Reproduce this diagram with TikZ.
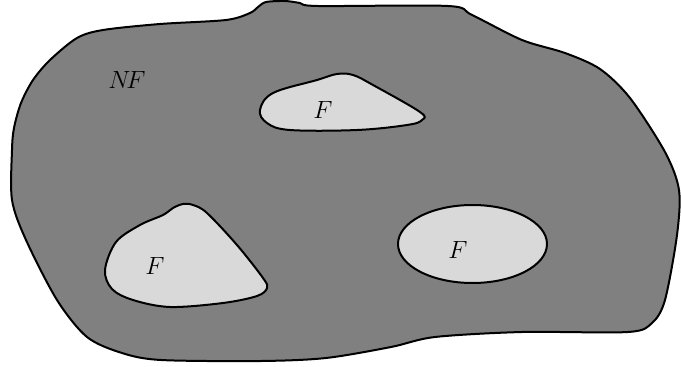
\documentclass[tikz,border=0pt]{standalone}
\begin{document}
\begin{tikzpicture}[x=1pt,y=-1pt,
  region/.style={draw=black,line width=2pt,line join=round},
  outer/.style={region,fill=black!50},
  inner/.style={region,fill=black!15},
  lbl/.style={font=\fontsize{23}{27}\selectfont,inner sep=0pt}]
\useasboundingbox (0,0) rectangle (681,367);
\draw[outer] plot[smooth cycle,tension=0.5] coordinates {
  (103,30) (160,24) (226,20) (250,13) (258,7) (266,2) (285,1) (300,3) (318,6)
  (448,6) (472,15) (522,40) (565,53) (600,69) (630,98) (665,152) (679,190)
  (677,235) (665,300) (652,323) (628,332) (522,332) (435,337) (391,347)
  (326,358) (261,361) (161,360) (122,353) (87,337) (57,300) (26,240)
  (12,200) (12,150) (14,128) (21,103) (33,80) (50,60) (77,38)};
\draw[inner] plot[smooth cycle,tension=0.6] coordinates {
  (260,110) (273,93) (317,80) (337,74) (353,75) (373,85) (420,112) (422,120)
  (407,125) (357,130) (290,130) (267,123)};
\draw[inner] plot[smooth cycle,tension=0.55] coordinates {
  (105,270) (116,242) (140,225) (163,215) (173,208) (183,204) (193,205)
  (207,213) (237,245) (263,278) (267,288) (257,296) (223,303) (170,307)
  (133,300) (112,289)};
\draw[inner] (472.5,244) ellipse [x radius=74.5, y radius=39];
\node[lbl] (nf) at (127,80) {$N\!F$};
\node[lbl] (f1) at (323,110) {$F$};
\node[lbl] (f2) at (155,266) {$F$};
\node[lbl] (f3) at (458,250) {$F$};
\end{tikzpicture}
\end{document}
